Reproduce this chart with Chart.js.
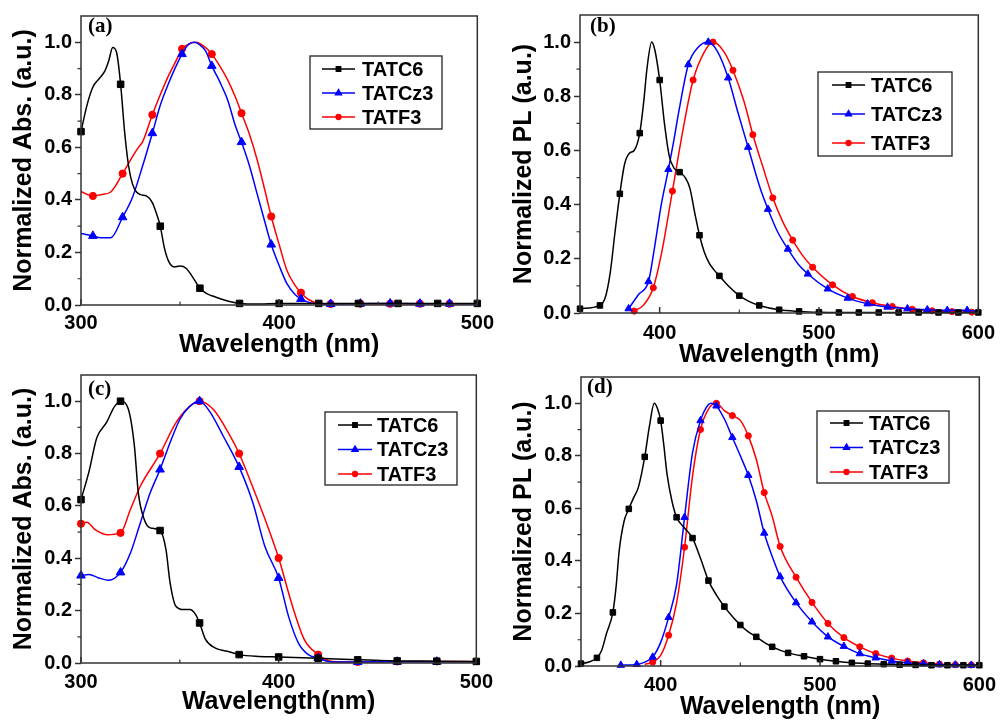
<!DOCTYPE html>
<html>
<head>
<meta charset="utf-8">
<script src="https://cdn.jsdelivr.net/npm/chart.js@4.4.1/dist/chart.umd.min.js"></script>
<style>
  body { margin: 0; background: #fff; overflow: hidden; }
  #wrap { position: relative; width: 1003px; height: 722px; }
  canvas { position: absolute; }
</style>
</head>
<body>
<div id="wrap">
  <canvas id="panelA" width="500" height="362" style="left:0;top:0"></canvas>
  <canvas id="panelB" width="503" height="372" style="left:500px;top:0"></canvas>
  <canvas id="panelC" width="500" height="362" style="left:0;top:360px"></canvas>
  <canvas id="panelD" width="503" height="362" style="left:500px;top:360px"></canvas>
</div>
<script>
const names = ['TATC6', 'TATCz3', 'TATF3'];

// (a) absorption
const aC6_nm = [300,303,306,309,312,314,316,318,320,322,324,326,328,330,333,336,338,340,342,344,347,350,353,356,360,363,366,370,375,380,390,400,420,440,460,480,500];
const aC6 = [0.66,0.76,0.83,0.86,0.89,0.93,0.98,0.96,0.84,0.66,0.53,0.46,0.43,0.42,0.415,0.39,0.35,0.30,0.22,0.17,0.145,0.148,0.14,0.11,0.064,0.045,0.035,0.025,0.013,0.006,0.004,0.006,0.006,0.006,0.006,0.006,0.006];
const aC6_marks = [300,320,340,360,380,400,420,440,460,480,500];
const aCz3_nm = [300,306,310,315,321,326,331,336,340,344,348,351,354,357,360,363,366,370,374,378,381,385,389,393,396,400,404,408,411,415,420,426,441,456,471,486,500];
const aCz3 = [0.272,0.263,0.256,0.256,0.334,0.41,0.527,0.654,0.76,0.84,0.91,0.955,0.99,1.0,0.99,0.965,0.91,0.85,0.78,0.68,0.62,0.53,0.42,0.31,0.23,0.15,0.08,0.04,0.023,0.01,0.004,0.004,0.005,0.006,0.005,0.005,0.005];
const aCz3_marks = [306,321,336,351,366,381,396,411,426,441,456,471,486];
const aF3_nm = [300,306,310,315,321,326,329,331,336,340,344,348,351,355,358,362,366,370,374,378,381,385,389,393,396,400,404,408,411,415,420,426,441,456,471,486,500];
const aF3 = [0.432,0.415,0.42,0.43,0.50,0.565,0.60,0.62,0.724,0.80,0.87,0.93,0.975,0.995,1.0,0.985,0.955,0.91,0.857,0.79,0.73,0.65,0.55,0.43,0.337,0.23,0.13,0.075,0.047,0.02,0.006,0.004,0.005,0.005,0.005,0.005,0.005];
const aF3_marks = [306,321,336,351,366,381,396,411,426,441,456,471,486];

// (b) PL
const bC6_nm = [350,362.5,366,369,372,375,378,381,384,387.5,390,392,395,397,400,403,406,409,412.5,416,419,422,425,428,431,434,437.5,444,450,456,462.5,475,487.5,500,512.5,525,537.5,550,562.5,575,587.5,600];
const bC6 = [0.016,0.028,0.06,0.15,0.30,0.44,0.55,0.59,0.60,0.664,0.78,0.90,1.0,0.97,0.86,0.70,0.58,0.535,0.52,0.50,0.46,0.37,0.287,0.225,0.185,0.16,0.137,0.095,0.064,0.043,0.028,0.012,0.006,0.003,0.002,0.002,0.002,0.002,0.002,0.002,0.002,0.002];
const bC6_marks = [350,362.5,375,387.5,400,412.5,425,437.5,450,462.5,475,487.5,500,512.5,525,537.5,550,562.5,575,587.5,600];
const bCz3_nm = [380.5,387,393,397,401,405.5,409,412,418,424,430.5,436.5,443,449,455.5,463,468,474,480.5,487,493,505.5,518,530.5,543,555.5,568,580.5,593,600];
const bCz3 = [0.016,0.07,0.116,0.25,0.40,0.53,0.64,0.743,0.917,0.98,1.0,0.963,0.868,0.743,0.612,0.462,0.383,0.30,0.236,0.18,0.144,0.089,0.055,0.034,0.022,0.016,0.012,0.01,0.01,0.006];
const bCz3_marks = [380.5,393,405.5,418,430.5,443,455.5,468,480.5,493,505.5,518,530.5,543,555.5,568,580.5,593];
const bF3_nm = [384,390,396,401.5,408,415,421,428,433.5,440.5,446,453,458.5,465,471,477,483.5,490,496,508.5,521,533.5,546,558.5,571,583.5,596,600];
const bF3 = [0.007,0.03,0.093,0.23,0.45,0.688,0.86,0.963,1.0,0.963,0.896,0.78,0.658,0.535,0.425,0.34,0.269,0.21,0.169,0.104,0.061,0.038,0.024,0.014,0.008,0.005,0.003,0.003];
const bF3_marks = [384,396,408,421,433.5,446,458.5,471,483.5,496,508.5,521,533.5,546,558.5,571,583.5,596];

// (c) absorption
const cC6_nm = [300,304,308,313,317,320,324,327,329,332,335,340,343,345,348,352,355,358,360,363,368,374,380,390,400,420,440,460,480,500];
const cC6 = [0.624,0.73,0.86,0.92,0.98,1.0,0.968,0.83,0.65,0.548,0.516,0.506,0.433,0.31,0.217,0.204,0.204,0.185,0.153,0.09,0.057,0.045,0.032,0.025,0.023,0.018,0.012,0.008,0.007,0.006];
const cC6_marks = [300,320,340,360,380,400,420,440,460,480,500];
const cCz3_nm = [300,304,309,314,320,325,330,335,340,345,350,355,360,365,372,380,387,393,400,405,410,415,420,425,430,440,460,480,500];
const cCz3 = [0.334,0.338,0.325,0.316,0.346,0.42,0.535,0.65,0.739,0.84,0.93,0.98,1.0,0.962,0.866,0.749,0.611,0.446,0.325,0.178,0.076,0.032,0.019,0.006,0.004,0.004,0.005,0.005,0.005];
const cCz3_marks = [300,320,340,360,380,400,420,440,460,480];
const cF3_nm = [300,303,307,313,320,325,330,340,348,355,360,367,375,380,388,395,400,407,413,420,427,440,460,480,500];
const cF3 = [0.532,0.538,0.51,0.49,0.497,0.586,0.675,0.8,0.917,0.98,1.0,0.968,0.873,0.8,0.65,0.51,0.401,0.217,0.089,0.032,0.006,0.004,0.006,0.006,0.005];
const cF3_marks = [300,320,340,360,380,400,420,440,460,480];

// (d) PL
const dC6_nm = [350,355,360,363,366,370,372,374,377,380,383,386,390,393,396,398,400,402,404,407,410,415,420,425,430,435,440,445,450,455,460,465,470,480,490,500,510,520,530,540,550,560,570,580,590,600];
const dC6 = [0.009,0.015,0.031,0.06,0.124,0.204,0.30,0.44,0.55,0.598,0.64,0.68,0.796,0.915,1.0,0.98,0.934,0.84,0.73,0.63,0.566,0.525,0.487,0.41,0.325,0.27,0.226,0.188,0.156,0.13,0.111,0.09,0.073,0.05,0.037,0.026,0.018,0.012,0.009,0.007,0.005,0.004,0.003,0.003,0.003,0.003];
const dC6_marks = [350,360,370,380,390,400,410,420,430,440,450,460,470,480,490,500,510,520,530,540,550,560,570,580,590,600];
const dCz3_nm = [375,385,390,395,400,405,410,415,420,425,430,432,435,440,445,450,455,460,465,470,475,485,495,505,515,525,535,545,555,565,575,585,595,600];
const dCz3 = [0.003,0.006,0.015,0.034,0.09,0.185,0.31,0.566,0.812,0.934,0.995,1.0,0.99,0.94,0.87,0.80,0.726,0.63,0.506,0.417,0.34,0.241,0.168,0.111,0.075,0.047,0.031,0.019,0.012,0.008,0.005,0.004,0.003,0.003];
const dCz3_marks = [375,385,395,405,415,425,435,445,455,465,475,485,495,505,515,525,535,545,555,565,575,585,595];
const dF3_nm = [390,395,400,405,410,415,420,425,430,435,440,445,450,455,460,465,470,475,485,495,505,515,525,535,545,555,565,575,585,595,600];
const dF3 = [0.006,0.015,0.04,0.117,0.24,0.452,0.723,0.9,0.978,1.0,0.972,0.953,0.935,0.876,0.787,0.66,0.57,0.455,0.338,0.242,0.162,0.108,0.073,0.047,0.03,0.019,0.012,0.007,0.005,0.004,0.003];
const dF3_marks = [395,405,415,425,435,445,455,465,475,485,495,505,515,525,535,545,555,565,575,585,595];

// tick positions
const xMajorAbs = [300, 400, 500];
const xMinorAbs = [350, 450];
const xMajorPL = [400, 500, 600];
const xMinorPL = [450, 550];
const yMinor = [0.1, 0.3, 0.5, 0.7, 0.9];

const styles = [
  { color: '#000000', shape: 'rect', r: 4.6 },
  { color: '#0000ff', shape: 'triangle', r: 5 },
  { color: '#ff0000', shape: 'circle', r: 3.6 }
];

Chart.defaults.font.family = "'Liberation Sans', Arial, sans-serif";
Chart.defaults.color = '#000';

// box round the plot area, inward x ticks and short outward minor y ticks
const frame = {
  id: 'frame',
  afterDraw(chart, args, opts) {
    const { ctx, chartArea: a, scales } = chart;
    ctx.save();
    ctx.strokeStyle = '#333';
    ctx.lineWidth = 1.5;
    ctx.strokeRect(a.left, a.top, a.right - a.left, a.bottom - a.top);
    ctx.beginPath();
    opts.xMajor.forEach(v => {
      const px = scales.x.getPixelForValue(v);
      ctx.moveTo(px, a.bottom); ctx.lineTo(px, a.bottom - 6);
    });
    ctx.stroke();
    ctx.lineWidth = 1.2;
    ctx.beginPath();
    opts.xMinor.forEach(v => {
      const px = scales.x.getPixelForValue(v);
      ctx.moveTo(px, a.bottom); ctx.lineTo(px, a.bottom - 3.5);
    });
    opts.yMinor.forEach(v => {
      const py = scales.y.getPixelForValue(v);
      ctx.moveTo(a.left, py); ctx.lineTo(a.left - 3.5, py);
    });
    ctx.stroke();
    ctx.restore();
  }
};

// boxed legend inside the plot
const insetLegend = {
  id: 'insetLegend',
  afterDraw(chart, args, o) {
    const ctx = chart.ctx;
    ctx.save();
    ctx.strokeStyle = '#222';
    ctx.lineWidth = 1.3;
    ctx.strokeRect(o.x, o.y, o.w, o.h);
    ctx.font = "bold 20px 'Liberation Sans', Arial, sans-serif";
    ctx.textBaseline = 'middle';
    chart.data.datasets.forEach((ds, i) => {
      const y = o.y + o.first + i * o.gap;
      ctx.strokeStyle = ds.borderColor;
      ctx.fillStyle = ds.borderColor;
      ctx.lineWidth = 1.6;
      ctx.beginPath();
      ctx.moveTo(o.x + o.line0, y);
      ctx.lineTo(o.x + o.line1, y);
      ctx.stroke();
      Chart.helpers.drawPoint(ctx, { pointStyle: ds.pointStyle, radius: styles[i].r * 0.65, borderWidth: 1, rotation: 0 },
        o.x + (o.line0 + o.line1) / 2, y);
      ctx.fillStyle = '#000';
      ctx.fillText(ds.label, o.x + o.text, y + 1);
    });
    ctx.restore();
  }
};

// "(a)" style tag in the corner
const panelTag = {
  id: 'panelTag',
  afterDraw(chart, args, o) {
    const ctx = chart.ctx;
    ctx.save();
    ctx.font = "bold 21px 'Liberation Serif', 'Times New Roman', serif";
    ctx.textBaseline = 'middle';
    ctx.fillStyle = '#000';
    ctx.fillText(o.text, o.x, o.y);
    ctx.restore();
  }
};

function panel(id, o) {
  const datasets = o.series.map((s, i) => ({
    label: names[i],
    data: s.nm.map((x, k) => ({ x, y: s.val[k] })),
    borderColor: styles[i].color,
    backgroundColor: styles[i].color,
    borderWidth: 1.5,
    pointStyle: styles[i].shape,
    pointRadius: c => (c.raw && s.marks.includes(c.raw.x)) ? styles[i].r * o.markScale : 0,
    pointBorderWidth: 1,
    cubicInterpolationMode: 'monotone',
    clip: 6
  }));
  const tickFont = { size: 20, weight: 'bold' };
  const titleFont = { size: 25, weight: 'bold' };
  return new Chart(document.getElementById(id), {
    type: 'line',
    data: { datasets },
    plugins: [frame, insetLegend, panelTag],
    options: {
      responsive: false,
      animation: false,
      events: [],
      layout: { padding: { left: 0, top: o.top, right: o.right, bottom: 0 } },
      plugins: {
        legend: { display: false },
        tooltip: { enabled: false },
        frame: { xMajor: o.xMajor, xMinor: o.xMinor, yMinor },
        insetLegend: o.legend,
        panelTag: o.tag
      },
      scales: {
        x: {
          type: 'linear', min: o.xMin, max: o.xMax,
          afterFit: s => { s.height = o.xH; },
          ticks: { stepSize: 100, includeBounds: false, autoSkip: false, maxRotation: 0, font: tickFont, color: '#000', padding: o.xPad, callback: v => String(v) },
          grid: { display: false, drawTicks: false },
          border: { display: false },
          title: { display: true, text: o.xTitle, font: titleFont, color: '#000', padding: { top: 0, bottom: o.xTitlePad } }
        },
        y: {
          min: 0, max: 1.1,
          afterFit: s => { s.width = o.yW; },
          ticks: { stepSize: 0.2, includeBounds: false, font: tickFont, color: '#000', padding: 3, callback: v => v.toFixed(1) },
          grid: { display: true, drawOnChartArea: false, drawTicks: true, tickLength: 6, tickColor: '#333', tickWidth: 1.5 },
          border: { display: false },
          title: { display: true, text: o.yTitle, font: titleFont, color: '#000', padding: { top: 9, bottom: 0 } }
        }
      }
    }
  });
}

panel('panelA', {
  series: [
    { nm: aC6_nm, val: aC6, marks: aC6_marks },
    { nm: aCz3_nm, val: aCz3, marks: aCz3_marks },
    { nm: aF3_nm, val: aF3, marks: aF3_marks }
  ],
  xMin: 300, xMax: 500, xMajor: xMajorAbs, xMinor: xMinorAbs, markScale: 1,
  top: 16, right: 18, yW: 81, xH: 57, xPad: 6, xTitlePad: 2,
  xTitle: 'Wavelength (nm)', yTitle: 'Normalized Abs. (a.u.)',
  legend: { x: 310, y: 56, w: 132, h: 73, first: 13, gap: 24, line0: 12, line1: 45, text: 52 },
  tag: { text: '(a)', x: 88, y: 27 }
});

panel('panelB', {
  series: [
    { nm: bC6_nm, val: bC6, marks: bC6_marks },
    { nm: bCz3_nm, val: bCz3, marks: bCz3_marks },
    { nm: bF3_nm, val: bF3, marks: bF3_marks }
  ],
  xMin: 350, xMax: 600, xMajor: xMajorPL, xMinor: xMinorPL, markScale: 0.85,
  top: 13, right: 18, yW: 80, xH: 59, xPad: 8, xTitlePad: 2,
  xTitle: 'Wavelength (nm)', yTitle: 'Normalized PL (a.u.)',
  legend: { x: 318, y: 72, w: 134, h: 84, first: 13, gap: 29, line0: 14, line1: 47, text: 53 },
  tag: { text: '(b)', x: 90, y: 27 }
});

panel('panelC', {
  series: [
    { nm: cC6_nm, val: cC6, marks: cC6_marks },
    { nm: cCz3_nm, val: cCz3, marks: cCz3_marks },
    { nm: cF3_nm, val: cF3, marks: cF3_marks }
  ],
  xMin: 300, xMax: 500, xMajor: xMajorAbs, xMinor: xMinorAbs, markScale: 1,
  top: 15, right: 19, yW: 81, xH: 59, xPad: 7, xTitlePad: 5,
  xTitle: 'Wavelength(nm)', yTitle: 'Normalized Abs. (a.u.)',
  legend: { x: 325, y: 52, w: 132, h: 73, first: 13, gap: 24.5, line0: 13, line1: 47, text: 52 },
  tag: { text: '(c)', x: 88, y: 30 }
});

panel('panelD', {
  series: [
    { nm: dC6_nm, val: dC6, marks: dC6_marks },
    { nm: dCz3_nm, val: dCz3, marks: dCz3_marks },
    { nm: dF3_nm, val: dF3, marks: dF3_marks }
  ],
  xMin: 350, xMax: 600, xMajor: xMajorPL, xMinor: xMinorPL, markScale: 0.85,
  top: 17, right: 21, yW: 81, xH: 56, xPad: 7, xTitlePad: 0,
  xTitle: 'Wavelength (nm)', yTitle: 'Normalized PL (a.u.)',
  legend: { x: 317, y: 51, w: 132, h: 72, first: 12, gap: 24.5, line0: 13, line1: 46, text: 52 },
  tag: { text: '(d)', x: 87, y: 28 }
});
</script>
</body>
</html>
